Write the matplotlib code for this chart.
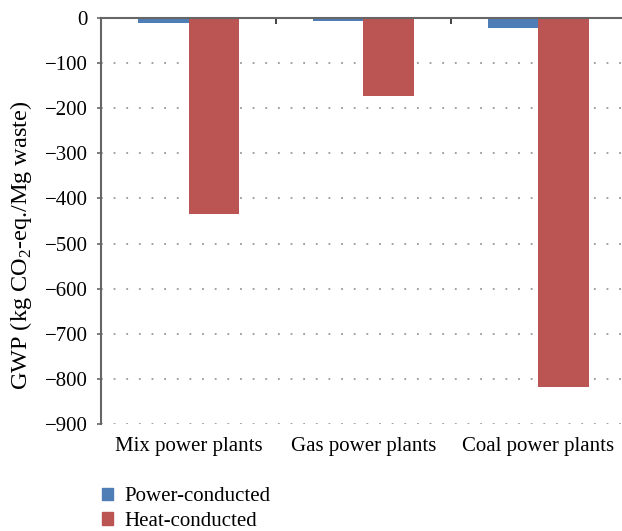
import matplotlib.pyplot as plt
import numpy as np
from matplotlib.patches import Patch

plt.rcParams["font.family"] = ["Liberation Serif", "DejaVu Serif"]
plt.rcParams["mathtext.fontset"] = "custom"
plt.rcParams["mathtext.rm"] = "Liberation Serif"

categories = ["Mix power plants", "Gas power plants", "Coal power plants"]
power_conducted = [-10, -6, -22]
heat_conducted = [-435, -172, -818]
series_names = ["Power-conducted", "Heat-conducted"]

BLUE = "#4F7DB6"
RED = "#BB5553"
AXIS_GREY = "#666666"
FS = 15

fig = plt.figure(figsize=(6.22, 5.31), dpi=100)
ax = fig.add_axes([0.1624, 0.2015, 0.844, 0.7646])

x = np.arange(len(categories))
w = 0.29
ax.bar(x - w / 2, power_conducted, w, color=BLUE, zorder=2)
ax.bar(x + w / 2, heat_conducted, w, color=RED, zorder=2)

ax.set_xlim(-0.5, 2.5)
ax.set_ylim(-900, 0)
ax.set_yticks(np.arange(-900, 1, 100))
ax.yaxis.grid(True, color="#999999", linestyle=(0, (1, 6)), linewidth=1.3)
ax.set_axisbelow(True)

for s in ("top", "right"):
    ax.spines[s].set_visible(False)
ax.spines["left"].set_color(AXIS_GREY)
ax.spines["left"].set_linewidth(1.5)
ax.spines["bottom"].set_position(("data", 0))
ax.spines["bottom"].set_color(AXIS_GREY)
ax.spines["bottom"].set_linewidth(1.5)
ax.spines["bottom"].set_zorder(3)

ax.set_xticks([0.5, 1.5])
ax.set_xticklabels([])
ax.tick_params(axis="x", direction="out", length=4, width=1.2, color="#222222")
ax.tick_params(axis="y", direction="out", length=3, width=1.2, color=AXIS_GREY,
               labelsize=FS, pad=6.5)

sec = ax.secondary_xaxis("bottom")
sec.set_xticks(x)
sec.set_xticklabels(categories, fontsize=FS)
sec.tick_params(length=0, pad=9)
sec.spines["bottom"].set_visible(False)

ax.set_ylabel("GWP (kg CO$_2$-eq./Mg waste)", fontsize=17.5)
ax.yaxis.set_label_coords(-0.128, 0.44)

handles = [Patch(color=BLUE), Patch(color=RED)]
fig.legend(handles, series_names, loc="upper left", bbox_to_anchor=(0.15, 0.098),
           frameon=False, fontsize=FS, handlelength=0.55, handleheight=0.55,
           handletextpad=0.55, labelspacing=0.27, borderaxespad=0)

fig.savefig("out.png", dpi=100)
